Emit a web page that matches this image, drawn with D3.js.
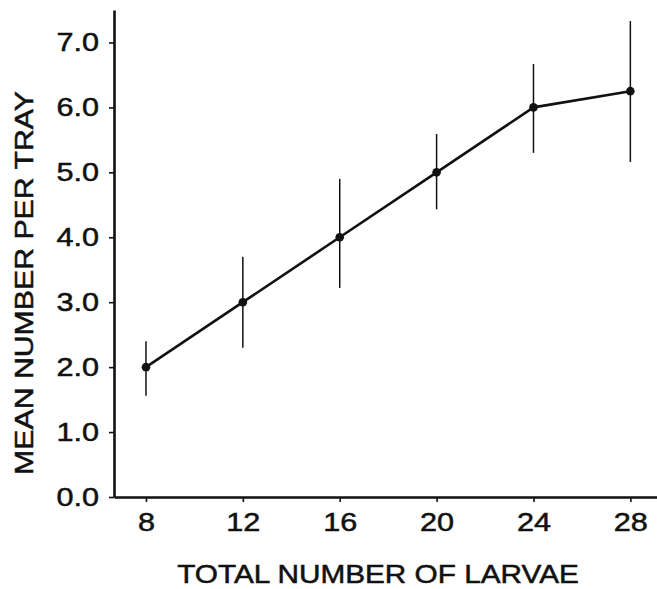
<!DOCTYPE html>
<html>
<head>
<meta charset="utf-8">
<script src="https://cdn.jsdelivr.net/npm/d3@7"></script>
<style>
  html, body { margin: 0; padding: 0; background: #fff; }
  svg { display: block; }
  text { font-family: "Liberation Sans", Arial, Helvetica, sans-serif; fill: #111; stroke: #111; stroke-width: 0.5px; }
</style>
</head>
<body>
<svg id="chart" width="657" height="589"></svg>
<script>
// ---- data ----
const larvae = [8, 12, 16, 20, 24, 28];
const meanPerTray = [2.0, 3.0, 4.0, 5.0, 6.0, 6.25];
const upperBar = [2.40, 3.70, 4.90, 5.59, 6.67, 7.33];
const lowerBar = [1.56, 2.30, 3.22, 4.43, 5.30, 5.16];
const yTicks = [0, 1, 2, 3, 4, 5, 6, 7];
const xTicks = [8, 12, 16, 20, 24, 28];
const xTitle = "TOTAL NUMBER OF LARVAE";
const yTitle = "MEAN NUMBER PER TRAY";

const W = 657, H = 589;
const mLeft = 114, mRight = 657, mTop = 10, mBottom = 497;

const svg = d3.select("#chart");
const x = d3.scaleLinear().domain([6.68, 29.1]).range([mLeft, mRight]);
const y = d3.scaleLinear().domain([0, 7.5]).range([mBottom, mTop]);

function widen(stretch) {
  return sel => sel.each(function () {
    const len = this.getComputedTextLength();
    d3.select(this).attr("textLength", len * stretch).attr("lengthAdjust", "spacingAndGlyphs");
  });
}

// y axis
const gy = svg.append("g").attr("transform", `translate(${mLeft},0)`)
  .call(d3.axisLeft(y).tickValues(yTicks).tickFormat(d3.format(".1f")).tickSize(5).tickSizeOuter(0).tickPadding(10));
gy.select(".domain").attr("stroke", "#111").attr("stroke-width", 2.6);
gy.selectAll(".tick line").attr("stroke", "#111").attr("stroke-width", 1.6);
gy.selectAll(".tick text").attr("font-size", 25.5).attr("fill", "#111")
  .attr("font-family", "'Liberation Sans', Arial, sans-serif").call(widen(1.2));

// x axis
const gx = svg.append("g").attr("transform", `translate(0,${mBottom})`)
  .call(d3.axisBottom(x).tickValues(xTicks).tickFormat(d3.format("d")).tickSize(5).tickSizeOuter(0).tickPadding(11));
gx.select(".domain").attr("stroke", "#111").attr("stroke-width", 2.6);
gx.selectAll(".tick line").attr("stroke", "#111").attr("stroke-width", 1.6);
gx.selectAll(".tick text").attr("font-size", 25.5).attr("fill", "#111")
  .attr("font-family", "'Liberation Sans', Arial, sans-serif").call(widen(1.2));

// error bars
const pts = larvae.map((d, i) => ({ x: d, m: meanPerTray[i], lo: lowerBar[i], hi: upperBar[i] }));
svg.append("g").selectAll("line").data(pts).join("line")
  .attr("x1", d => x(d.x)).attr("x2", d => x(d.x))
  .attr("y1", d => y(d.lo)).attr("y2", d => y(d.hi))
  .attr("stroke", "#111").attr("stroke-width", 1.5);

// mean line
svg.append("path").datum(pts)
  .attr("d", d3.line().x(d => x(d.x)).y(d => y(d.m)))
  .attr("fill", "none").attr("stroke", "#111").attr("stroke-width", 2.6).attr("stroke-linejoin", "round");

// points
svg.append("g").selectAll("circle").data(pts).join("circle")
  .attr("cx", d => x(d.x)).attr("cy", d => y(d.m)).attr("r", 4.3).attr("fill", "#111");

// titles
svg.append("text").attr("x", 378).attr("y", 583).attr("text-anchor", "middle")
  .attr("font-size", 25).text(xTitle).call(widen(1.19));
svg.append("text").attr("transform", "translate(33,283) rotate(-90)").attr("text-anchor", "middle")
  .attr("font-size", 25).text(yTitle).call(widen(1.21));
</script>
</body>
</html>
